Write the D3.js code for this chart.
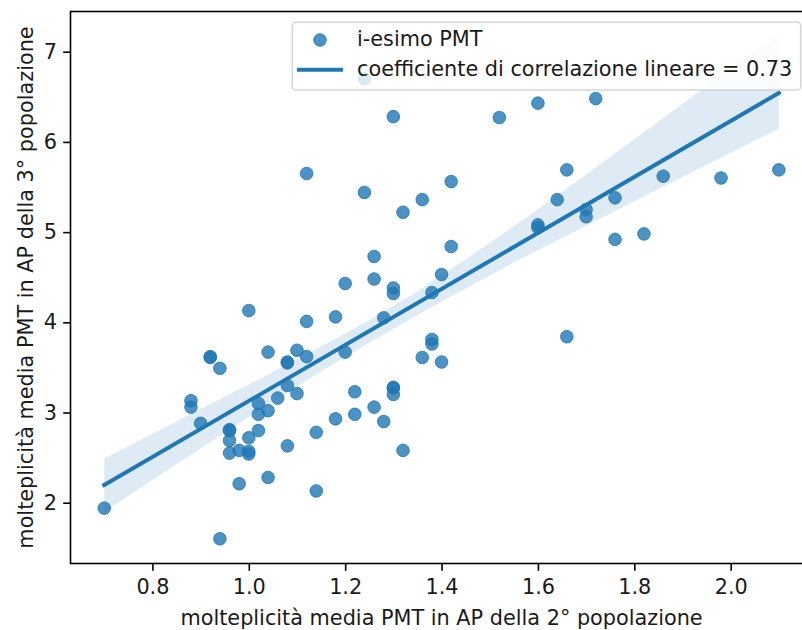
<!DOCTYPE html>
<html>
<head>
<meta charset="utf-8">
<script src="https://cdn.jsdelivr.net/npm/d3@7"></script>
<style>
  html, body { margin: 0; padding: 0; background: #ffffff; }
  svg { display: block; font-family: "DejaVu Sans", sans-serif; }
</style>
</head>
<body>
<svg id="chart" width="802" height="630"></svg>
<script>
// Mean PMT multiplicity in AP: 2nd population (x) vs 3rd population (y), one point per PMT
const pmtX = [
  0.70, 0.88, 0.88, 0.90, 0.92, 0.92, 0.94, 0.94, 0.96, 0.96,
  0.96, 0.96, 0.98, 0.98, 1.00, 1.00, 1.00, 1.00, 1.02, 1.02,
  1.02, 1.04, 1.04, 1.04, 1.06, 1.08, 1.08, 1.08, 1.08, 1.10,
  1.10, 1.12, 1.12, 1.12, 1.14, 1.14, 1.18, 1.18, 1.20, 1.20,
  1.22, 1.22, 1.24, 1.24, 1.26, 1.26, 1.26, 1.28, 1.28, 1.30,
  1.30, 1.30, 1.30, 1.30, 1.30, 1.32, 1.32, 1.36, 1.36, 1.38,
  1.38, 1.38, 1.40, 1.40, 1.42, 1.42, 1.52, 1.60, 1.60, 1.60,
  1.64, 1.66, 1.66, 1.70, 1.70, 1.72, 1.76, 1.76, 1.82, 1.86,
  1.98, 2.10
];
const pmtY = [
  1.94, 3.13, 3.06, 2.88, 3.61, 3.62, 3.49, 1.60, 2.81, 2.80,
  2.69, 2.55, 2.58, 2.21, 4.13, 2.72, 2.57, 2.54, 3.10, 2.98,
  2.80, 3.67, 3.02, 2.28, 3.16, 3.56, 3.55, 3.30, 2.63, 3.69,
  3.21, 5.65, 4.01, 3.62, 2.78, 2.13, 4.06, 2.93, 4.43, 3.67,
  3.23, 2.98, 6.70, 5.44, 4.73, 4.48, 3.06, 4.05, 2.90, 6.28,
  4.38, 4.32, 3.28, 3.27, 3.20, 5.22, 2.58, 5.36, 3.61, 4.33,
  3.81, 3.76, 4.53, 3.56, 5.56, 4.84, 6.27, 6.43, 5.08, 5.05,
  5.36, 5.69, 3.84, 5.25, 5.17, 6.48, 5.38, 4.92, 4.98, 5.62,
  5.60, 5.69
];

// 95% confidence band of the fit, sampled along x
const bandX     = [0.70, 0.90, 1.10, 1.30, 1.50, 1.70, 1.90, 2.10];
const bandUpper = [2.49, 3.04, 3.59, 4.18, 4.88, 5.64, 6.42, 7.20];
const bandLower = [1.90, 2.60, 3.29, 3.93, 4.52, 5.07, 5.61, 6.15];

const xTicks = [0.8, 1.0, 1.2, 1.4, 1.6, 1.8, 2.0];
const yTicks = [2, 3, 4, 5, 6, 7];

const corrLabel = "0.73";
const xLabel = "molteplicità media PMT in AP della 2° popolazione";
const yLabel = "molteplicità media PMT in AP della 3° popolazione";
const legendPoints = "i-esimo PMT";
const legendLine = "coefficiente di correlazione lineare = " + corrLabel;

const C = "#1f77b4";
const FONT = 20.8;
const INK = "#1a1a1a";
const LW = 1.6;     // spine / tick width
const TICK = 7.3;   // tick length

const svg = d3.select("#chart");
const plot = { left: 70.5, right: 812.6, top: 11.5, bottom: 563.5 };

const x = d3.scaleLinear().domain([0.63, 2.17]).range([plot.left, plot.right]);
const y = d3.scaleLinear().domain([1.326, 7.446]).range([plot.bottom, plot.top]);

// Ordinary least-squares fit through the points
const n = pmtX.length;
const mx = d3.mean(pmtX), my = d3.mean(pmtY);
let sxy = 0, sxx = 0;
for (let i = 0; i < n; i++) { sxy += (pmtX[i] - mx) * (pmtY[i] - my); sxx += (pmtX[i] - mx) ** 2; }
const slope = sxy / sxx, intercept = my - slope * mx;
const fitX = [d3.min(pmtX), d3.max(pmtX)];

const g = svg.append("g");

// confidence band
const bandData = bandX.map((v, i) => ({ x: v, lo: bandLower[i], hi: bandUpper[i] }));
g.append("path")
  .datum(bandData)
  .attr("fill", C)
  .attr("fill-opacity", 0.15)
  .attr("d", d3.area().x(d => x(d.x)).y0(d => y(d.lo)).y1(d => y(d.hi)).curve(d3.curveMonotoneX));

// scatter points
g.selectAll("circle.pt")
  .data(pmtX.map((v, i) => [v, pmtY[i]]))
  .join("circle")
  .attr("class", "pt")
  .attr("cx", d => x(d[0]))
  .attr("cy", d => y(d[1]))
  .attr("r", 6.3)
  .attr("fill", C)
  .attr("fill-opacity", 0.8)
  .attr("stroke", C)
  .attr("stroke-opacity", 0.8)
  .attr("stroke-width", 1);

// regression line
g.append("line")
  .attr("x1", x(fitX[0])).attr("y1", y(intercept + slope * fitX[0]))
  .attr("x2", x(fitX[1])).attr("y2", y(intercept + slope * fitX[1]))
  .attr("stroke", C)
  .attr("stroke-width", 4)
  .attr("stroke-linecap", "square");

// axes
const xAxis = d3.axisBottom(x).tickValues(xTicks).tickFormat(d3.format(".1f")).tickSize(TICK).tickPadding(8.5);
const yAxis = d3.axisLeft(y).tickValues(yTicks).tickFormat(d3.format("d")).tickSize(TICK).tickPadding(6.2);

const gx = svg.append("g").attr("transform", `translate(0,${plot.bottom})`).call(xAxis);
const gy = svg.append("g").attr("transform", `translate(${plot.left},0)`).call(yAxis);
[gx, gy].forEach(a => {
  a.select(".domain").remove();
  a.selectAll(".tick line").attr("stroke", "#000").attr("stroke-width", LW);
  a.selectAll(".tick text").attr("fill", INK).style("font-size", FONT + "px").style("font-family", "DejaVu Sans");
});

// frame
svg.append("rect")
  .attr("x", plot.left).attr("y", plot.top)
  .attr("width", plot.right - plot.left).attr("height", plot.bottom - plot.top)
  .attr("fill", "none").attr("stroke", "#000").attr("stroke-width", LW);

// axis titles
svg.append("text")
  .attr("x", (plot.left + plot.right) / 2).attr("y", 625)
  .attr("text-anchor", "middle")
  .style("font-size", FONT + "px").attr("fill", INK)
  .text(xLabel);
svg.append("text")
  .attr("transform", `translate(33,${(plot.top + plot.bottom) / 2}) rotate(-90)`)
  .attr("text-anchor", "middle")
  .style("font-size", FONT + "px").attr("fill", INK)
  .text(yLabel);

// legend
const lg = svg.append("g");
lg.append("rect")
  .attr("x", 292.3).attr("y", 22.3).attr("width", 508.4).attr("height", 67.7)
  .attr("rx", 3.5)
  .attr("fill", "#fff").attr("fill-opacity", 0.8)
  .attr("stroke", "#cccccc").attr("stroke-opacity", 0.8).attr("stroke-width", LW);
lg.append("circle")
  .attr("cx", 320).attr("cy", 40).attr("r", 6.3)
  .attr("fill", C).attr("fill-opacity", 0.8)
  .attr("stroke", C).attr("stroke-opacity", 0.8).attr("stroke-width", 1);
lg.append("text")
  .attr("x", 357).attr("y", 45.7)
  .style("font-size", FONT + "px").attr("fill", INK)
  .text(legendPoints);
lg.append("line")
  .attr("x1", 297).attr("x2", 343).attr("y1", 69.7).attr("y2", 69.7)
  .attr("stroke", C).attr("stroke-width", 4);
lg.append("text")
  .attr("x", 357).attr("y", 76)
  .style("font-size", FONT + "px").attr("fill", INK)
  .text(legendLine);
</script>
</body>
</html>
